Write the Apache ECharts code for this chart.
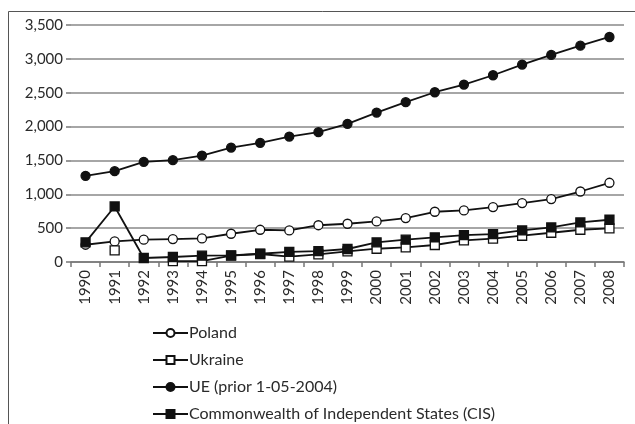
<!DOCTYPE html>
<html><head><meta charset="utf-8">
<script src="https://cdn.jsdelivr.net/npm/echarts@6/dist/echarts.min.js"></script>
<style>html,body{margin:0;padding:0;background:#fff}#c{width:635px;height:424px}</style>
</head><body><div id="c"></div>
<script>
const years = ['1990','1991','1992','1993','1994','1995','1996','1997','1998','1999','2000','2001','2002','2003','2004','2005','2006','2007','2008'];
const poland = [255,304,329,339,348,417,476,466,543,565,599,649,742,761,811,870,929,1041,1170];
const ukraine = [null,171,null,12,12,95,118,78,112,157,196,216,251,319,344,388,432,476,496];
const ue = [1273,1342,1479,1504,1572,1690,1760,1853,1917,2040,2207,2360,2507,2620,2758,2915,3058,3195,3323];
const cis = [290,820,59,74,93,97,122,150,162,192,290,329,363,398,413,466,510,584,624];
const yTicks = [0,500,1000,1500,2000,2500,3000,3500];

const font = 'Lato, "Open Sans", sans-serif';
const chart = echarts.init(document.getElementById('c'), null, {renderer:'canvas'});
function s(name, data, symbol, fill, z){
  return {name, type:'line', data, symbol, symbolSize:9, showSymbol:true,
    connectNulls:false, z,
    lineStyle:{color:'#111', width:1.8},
    itemStyle:{color:fill, borderColor:'#111', borderWidth:1.3}};
}
chart.setOption({
  animation:false,
  graphic:[{type:'rect', shape:{x:8.5,y:11.5,width:700,height:500}, style:{fill:'none', stroke:'#555', lineWidth:1}, silent:true}],
  grid:{left:71, right:11, top:25, bottom:162},
  xAxis:{type:'category', data:years, boundaryGap:true,
    axisLine:{lineStyle:{color:'#777', width:1.5}},
    axisTick:{show:true, alignWithLabel:false, length:5, lineStyle:{color:'#777', width:1.5}},
    axisLabel:{rotate:90, fontFamily:font, fontSize:15, color:'#2a2a2a', margin:8, interval:0}},
  yAxis:{type:'value', min:0, max:3500, interval:500,
    axisLine:{show:false},
    axisTick:{show:true, length:5, lineStyle:{color:'#777', width:1.5}},
    splitLine:{lineStyle:{color:'#888', width:1.5}},
    axisLabel:{fontFamily:font, fontSize:15, color:'#2a2a2a', margin:8,
      formatter:v=>yTicks.includes(v)?v.toLocaleString('en-US'):''}},
  legend:{orient:'vertical', left:152, top:325, padding:0, itemGap:11, itemWidth:35, itemHeight:10,
    textStyle:{fontFamily:font, fontSize:16, lineHeight:16, color:'#2a2a2a', padding:[0,0,0,-4]},
    data:['Poland','Ukraine','UE (prior 1-05-2004)','Commonwealth of Independent States (CIS)']},
  series:[
    s('Poland', poland, 'circle', '#fff', 2),
    s('Ukraine', ukraine, 'rect', '#fff', 3),
    s('UE (prior 1-05-2004)', ue, 'circle', '#111', 4),
    s('Commonwealth of Independent States (CIS)', cis, 'rect', '#111', 5)
  ]
});
</script></body></html>
